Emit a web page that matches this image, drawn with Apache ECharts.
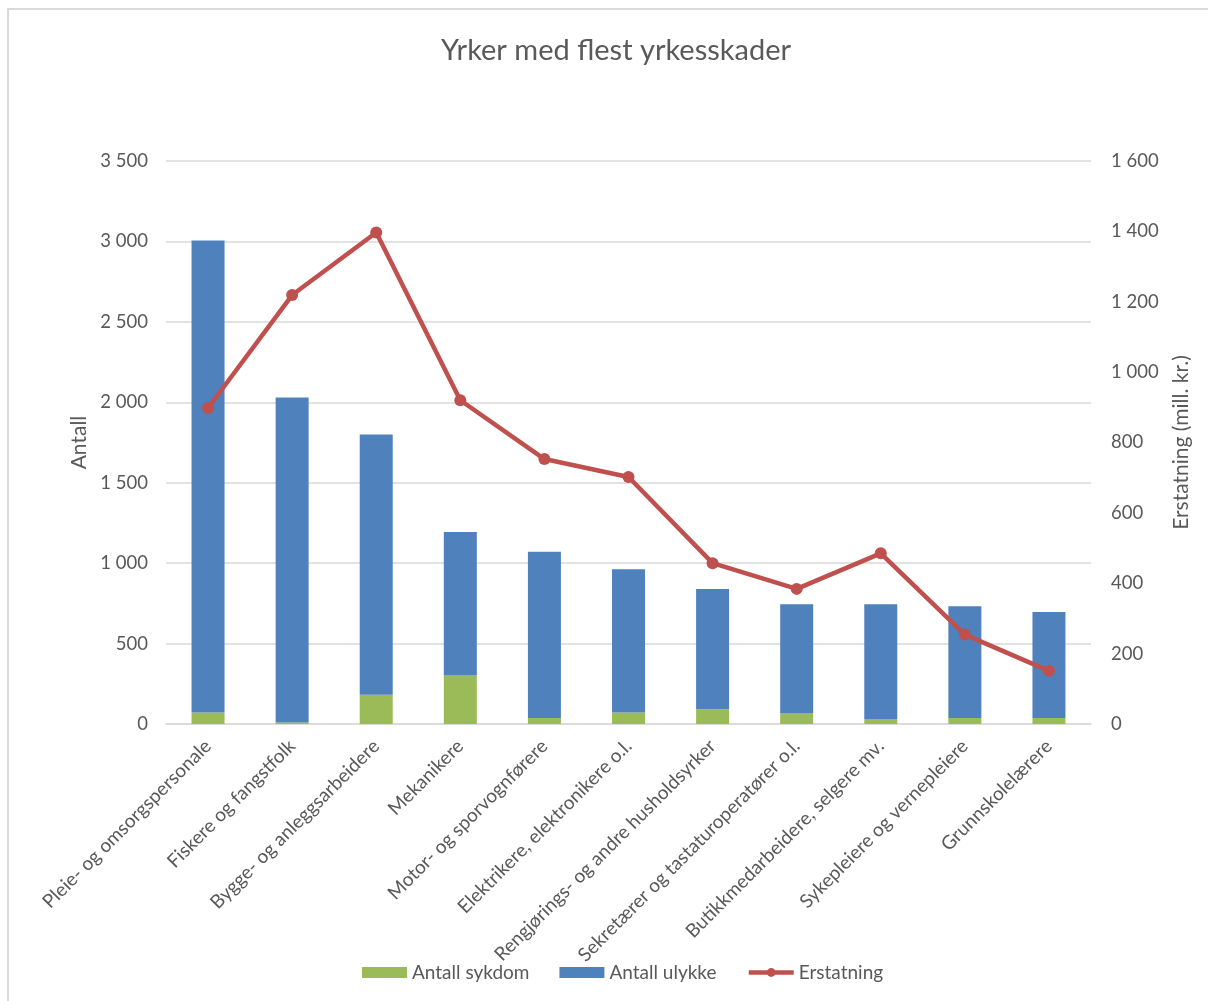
<!DOCTYPE html>
<html>
<head>
<meta charset="utf-8">
<script src="https://cdn.jsdelivr.net/npm/echarts@6/dist/echarts.min.js"></script>
<style>
html,body{margin:0;padding:0;background:#fff;}
#chart{width:1208px;height:1001px;}
</style>
</head>
<body>
<div id="chart"></div>
<script>
const categories = [
  "Pleie- og omsorgspersonale",
  "Fiskere og fangstfolk",
  "Bygge- og anleggsarbeidere",
  "Mekanikere",
  "Motor- og sporvognførere",
  "Elektrikere, elektronikere o.l.",
  "Rengjørings- og andre husholdsyrker",
  "Sekretærer og tastaturoperatører o.l.",
  "Butikkmedarbeidere, selgere mv.",
  "Sykepleiere og vernepleiere",
  "Grunnskolelærere"
];
const antallSykdom = [72, 10, 182, 302, 37, 72, 91, 66, 31, 37, 37];
const antallUlykke = [2933, 2020, 1618, 892, 1034, 890, 749, 679, 714, 695, 660];
const erstatning = [898, 1219, 1397, 920, 753, 702, 457, 384, 485, 254, 151];
const leftTicks = { min: 0, max: 3500, interval: 500 };
const rightTicks = { min: 0, max: 1600, interval: 200 };

const FONT = 'Lato, "Open Sans", sans-serif';
const TXT = '#595959';
const GRID = '#D9D9D9';
function fmt(v){ return String(v).replace(/\B(?=(\d{3})+(?!\d))/g, ' '); }

const chart = echarts.init(document.getElementById('chart'), null, {renderer:'canvas'});
chart.setOption({
  animation: false,
  backgroundColor: '#fff',
  textStyle: { fontFamily: FONT, color: TXT },
  graphic: [{
    type: 'rect', silent: true, z: -10,
    shape: { x: 8, y: 9, width: 1300, height: 1100 },
    style: { fill: 'none', stroke: GRID, lineWidth: 2 }
  }],
  title: {
    text: 'Yrker med flest yrkesskader',
    left: 611, top: 31, textAlign: 'center',
    textStyle: { fontFamily: FONT, fontSize: 29, fontWeight: 'normal', color: TXT }
  },
  legend: {
    bottom: 14, left: 357,
    itemWidth: 45, itemHeight: 11, itemGap: 30,
    textStyle: { fontFamily: FONT, fontSize: 19, color: TXT },
    data: [
      { name: 'Antall sykdom', icon: 'rect' },
      { name: 'Antall ulykke', icon: 'rect' },
      { name: 'Erstatning', lineStyle: { width: 4.5 } }
    ]
  },
  grid: { left: 166, right: 117, top: 161, bottom: 277, containLabel: false },
  xAxis: {
    type: 'category', data: categories,
    axisLine: { lineStyle: { color: GRID, width: 1.5 } },
    axisTick: { show: false },
    axisLabel: { rotate: 45, interval: 0, fontSize: 19, color: TXT, fontFamily: FONT, margin: 19 }
  },
  yAxis: [{
    type: 'value', min: leftTicks.min, max: leftTicks.max, interval: leftTicks.interval,
    name: 'Antall', nameLocation: 'middle', nameGap: 76, nameRotate: 90,
    nameTextStyle: { fontSize: 21, color: TXT, fontFamily: FONT },
    axisLine: { show: false }, axisTick: { show: false },
    axisLabel: { formatter: fmt, fontSize: 18.5, color: TXT, fontFamily: FONT, margin: 18 },
    splitLine: { lineStyle: { color: GRID, width: 1.5 } }
  }, {
    type: 'value', min: rightTicks.min, max: rightTicks.max, interval: rightTicks.interval,
    position: 'right',
    name: 'Erstatning (mill. kr.)', nameLocation: 'middle', nameGap: 80, nameRotate: 90,
    nameTextStyle: { fontSize: 21, color: TXT, fontFamily: FONT },
    axisLine: { show: false }, axisTick: { show: false },
    axisLabel: { formatter: fmt, fontSize: 18.5, color: TXT, fontFamily: FONT, margin: 20 },
    splitLine: { show: false }
  }],
  series: [{
    name: 'Antall sykdom', type: 'bar', stack: 'a', data: antallSykdom,
    barWidth: 33, itemStyle: { color: '#9BBB59' }
  }, {
    name: 'Antall ulykke', type: 'bar', stack: 'a', data: antallUlykke,
    barWidth: 33, itemStyle: { color: '#4F81BD' }
  }, {
    name: 'Erstatning', type: 'line', yAxisIndex: 1, data: erstatning,
    symbol: 'circle', symbolSize: 12,
    lineStyle: { color: '#C0504D', width: 4.5 },
    itemStyle: { color: '#C0504D' }
  }]
});
</script>
</body>
</html>
